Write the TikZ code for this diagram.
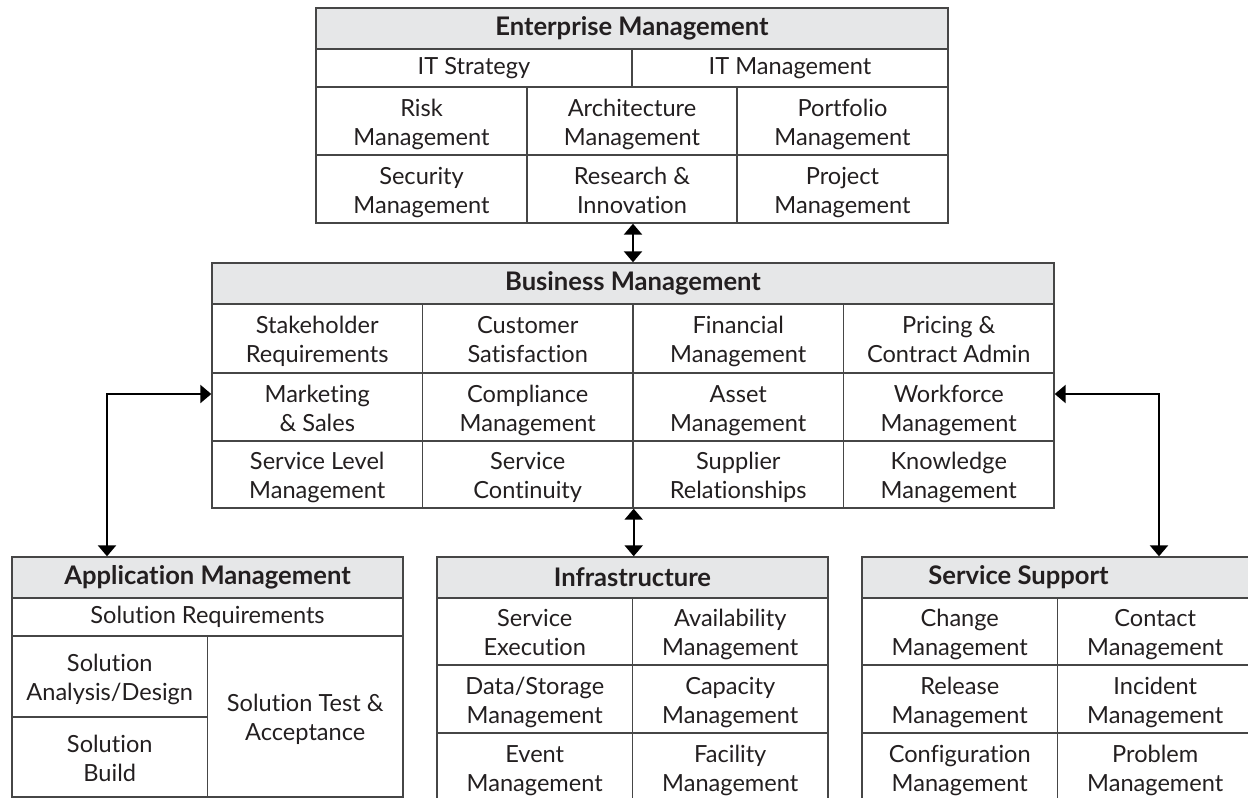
\documentclass[tikz,border=0pt]{standalone}
\usepackage{fontspec}
\setmainfont{Lato}[Ligatures={NoCommon}]
\usetikzlibrary{arrows.meta}
\definecolor{hdrfill}{RGB}{230,231,232}
\definecolor{edge}{RGB}{70,70,70}
\definecolor{ink}{RGB}{35,31,32}
\newcommand{\mkcell}[7][cellst]{%
  \pgfmathsetmacro\cw{(#5-#3)*0.5}%
  \pgfmathsetmacro\ch{(#6-#4)*0.5}%
  \node[#1, minimum width=\cw pt, minimum height=\ch pt] (#2) at ({(#3+#5)/2},{(#4+#6)/2}) {#7};}
\begin{document}
\begin{tikzpicture}[x=0.5pt,y=-0.5pt,
  basest/.style={draw=edge, line width=0.7pt, inner sep=0pt, align=center, text=ink},
  onel/.style={basest, font=\fontsize{11.8}{14.4}\selectfont},
  cellst/.style={onel, text height=25pt, text depth=0.8pt},
  hdrst/.style={basest, fill=hdrfill, font=\fontsize{12.8}{15}\selectfont\bfseries},
  hdrtext/.style={inner sep=0pt, text=ink, font=\fontsize{12.8}{15}\selectfont\bfseries},
  link/.style={line width=1.2pt, draw=black, {Triangle[length=5.5pt,width=9pt]}-{Triangle[length=5.5pt,width=9pt]}}]
\useasboundingbox (0,0) rectangle (1248,798);
% Enterprise Management
\mkcell[hdrst]{emh}{316}{8}{948}{49}{Enterprise Management}
\mkcell[onel]{its}{316}{49}{632}{87}{IT Strategy}
\mkcell[onel]{itm}{632}{49}{948}{87}{IT Management}
\mkcell{risk}{316}{87}{527}{155}{Risk\\Management}
\mkcell{arch}{527}{87}{737}{155}{Architecture\\Management}
\mkcell{port}{737}{87}{948}{155}{Portfolio\\Management}
\mkcell{sec}{316}{155}{527}{223}{Security\\Management}
\mkcell{rsi}{527}{155}{737}{223}{Research \&\\Innovation}
\mkcell{proj}{737}{155}{948}{223}{Project\\Management}
% Business Management
\mkcell[hdrst]{bmh}{212}{263}{1054}{304}{Business Management}
\mkcell{stk}{212}{304}{422.5}{373}{Stakeholder\\Requirements}
\mkcell{cust}{422.5}{304}{633}{373}{Customer\\Satisfaction}
\mkcell{fin}{633}{304}{843.5}{373}{Financial\\Management}
\mkcell{pric}{843.5}{304}{1054}{373}{Pricing \&\\Contract Admin}
\mkcell{mkt}{212}{373}{422.5}{441}{Marketing\\\& Sales}
\mkcell{comp}{422.5}{373}{633}{441}{Compliance\\Management}
\mkcell{asset}{633}{373}{843.5}{441}{Asset\\Management}
\mkcell{wf}{843.5}{373}{1054}{441}{Workforce\\Management}
\mkcell{slm}{212}{441}{422.5}{508}{Service Level\\Management}
\mkcell{scont}{422.5}{441}{633}{508}{Service\\Continuity}
\mkcell{supp}{633}{441}{843.5}{508}{Supplier\\Relationships}
\mkcell{know}{843.5}{441}{1054}{508}{Knowledge\\Management}
% Application Management
\mkcell[hdrst]{amh}{12}{557}{403}{598}{Application Management}
\mkcell[onel]{sreq}{12}{598}{403}{636}{Solution Requirements}
\mkcell{sad}{12}{636}{207.5}{717}{Solution\\Analysis/Design}
\mkcell{sb}{12}{717}{207.5}{797}{Solution\\Build}
\mkcell{sta}{207.5}{636}{403}{797}{Solution Test \&\\Acceptance}
% Infrastructure
\mkcell[hdrst]{infh}{437}{557}{828}{598}{Infrastructure}
\mkcell{sexe}{437}{598}{632.5}{665}{Service\\Execution}
\mkcell{avail}{632.5}{598}{828}{665}{Availability\\Management}
\mkcell{dsm}{437}{665}{632.5}{733}{Data/Storage\\Management}
\mkcell{cap}{632.5}{665}{828}{733}{Capacity\\Management}
\mkcell{evt}{437}{733}{632.5}{801}{Event\\Management}
\mkcell{fac}{632.5}{733}{828}{801}{Facility\\Management}
% Service Support
\mkcell[hdrst]{ssh}{862}{557}{1253}{598}{}
\node[hdrtext] (sshl) at ([xshift=-19.5pt]ssh.center) {Service Support};
\mkcell{chg}{862}{598}{1057.5}{665}{Change\\Management}
\mkcell{cont}{1057.5}{598}{1253}{665}{Contact\\Management}
\mkcell{rel}{862}{665}{1057.5}{733}{Release\\Management}
\mkcell{inc}{1057.5}{665}{1253}{733}{Incident\\Management}
\mkcell{cfg}{862}{733}{1057.5}{801}{Configuration\\Management}
\mkcell{prob}{1057.5}{733}{1253}{801}{Problem\\Management}
% connectors
\coordinate (lft) at (107,394);
\coordinate (rgt) at (1159,394);
\draw[link] (rsi.south -| bmh.north) -- (bmh.north);
\draw[link] (scont.south east) -- (scont.south east |- infh.north);
\draw[link] (amh.north -| lft) |- (lft -| mkt.west);
\draw[link] (ssh.north -| rgt) |- (rgt -| wf.east);
\end{tikzpicture}
\end{document}
